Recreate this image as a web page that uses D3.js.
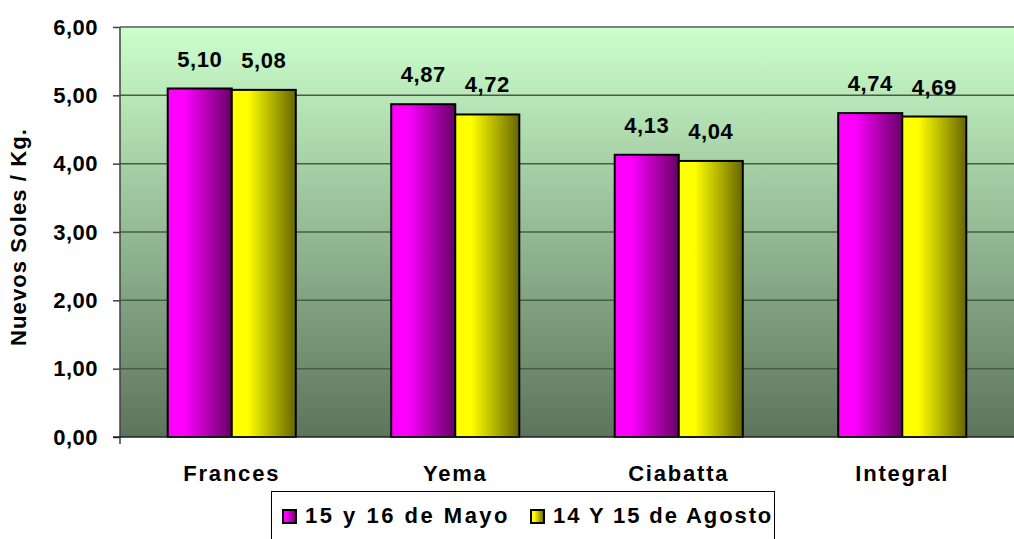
<!DOCTYPE html>
<html><head><meta charset="utf-8">
<script src="https://cdn.jsdelivr.net/npm/d3@7"></script>
<style>html,body{margin:0;padding:0;background:#fff;}svg{display:block;font-family:"Liberation Sans",Arial,sans-serif;}</style>
</head><body>
<svg id="c" width="1014" height="539"></svg>
<script>
const categories = ["Frances", "Yema", "Ciabatta", "Integral"];
const seriesNames = ["15 y 16 de Mayo", "14 Y 15 de Agosto"];
const mayo = [5.10, 4.87, 4.13, 4.74];
const agosto = [5.08, 4.72, 4.04, 4.69];
const yTicks = [0, 1, 2, 3, 4, 5, 6];
const yTitle = "Nuevos Soles / Kg.";

const svg = d3.select("#c");
const M = {l: 120, r: 1014, t: 27, b: 437};
const fmt = v => v.toFixed(2).replace(".", ",");

const defs = svg.append("defs");
const bg = defs.append("linearGradient").attr("id","bg").attr("x1",0).attr("y1",0).attr("x2",0).attr("y2",1);
bg.append("stop").attr("offset","0%").attr("stop-color","#ccffcc");
bg.append("stop").attr("offset","100%").attr("stop-color","#5c745c");
function barGrad(id, c1, c2){
  const g = defs.append("linearGradient").attr("id",id).attr("x1",0).attr("y1",0).attr("x2",1).attr("y2",0);
  g.append("stop").attr("offset","0%").attr("stop-color",c1);
  g.append("stop").attr("offset","25%").attr("stop-color",c1);
  g.append("stop").attr("offset","100%").attr("stop-color",c2);
}
barGrad("gm","#ff00ff","#660066");
barGrad("gy","#ffff00","#666600");
const fills = ["url(#gm)","url(#gy)"];

const x = d3.scaleBand().domain(categories).range([M.l, M.r]).paddingInner(0.427).paddingOuter(0.2135);
const xs = d3.scaleBand().domain([0,1]).range([0, x.bandwidth()]);
const y = d3.scaleLinear().domain([0, 6]).range([M.b, M.t]);

svg.append("rect").attr("x",M.l).attr("y",M.t).attr("width",M.r-M.l).attr("height",M.b-M.t).attr("fill","url(#bg)");

// gridlines
svg.append("g").selectAll("line").data(yTicks.slice(1)).join("line")
  .attr("x1",M.l).attr("x2",M.r).attr("y1",d=>y(d)).attr("y2",d=>y(d))
  .attr("stroke", d => d===6 ? "#808080" : "#4a5a4a").attr("stroke-width", d => d===6 ? 2 : 1.5);

// y axis
const ya = svg.append("g").attr("transform",`translate(${M.l},0)`)
  .call(d3.axisLeft(y).tickValues(yTicks).tickFormat(fmt).tickSize(7).tickPadding(15));
ya.select(".domain").attr("stroke","#404040").attr("stroke-width",1.5).attr("d",`M0,${M.t}V${M.b+7}`);
ya.selectAll(".tick line").attr("stroke","#404040").attr("stroke-width",1.5);
ya.selectAll("text").attr("font-size",22).attr("font-weight","bold").attr("fill","#000")
  .attr("font-family","Liberation Sans, Arial").attr("letter-spacing",0.5).attr("dy","0.33em");

// bars
const data = [];
categories.forEach((c,i)=>{ data.push({c, s:0, v:mayo[i]}); data.push({c, s:1, v:agosto[i]}); });
svg.append("g").selectAll("rect").data(data).join("rect")
  .attr("x", d => x(d.c) + xs(d.s)).attr("y", d => y(d.v))
  .attr("width", xs.bandwidth()).attr("height", d => y(0) - y(d.v))
  .attr("fill", d => fills[d.s]).attr("stroke","#000").attr("stroke-width",2);

// baseline
svg.append("line").attr("x1",M.l-7).attr("x2",M.r).attr("y1",y(0)).attr("y2",y(0)).attr("stroke","#202020").attr("stroke-width",1.5);

// value labels
svg.append("g").selectAll("text").data(data).join("text")
  .attr("x", d => x(d.c) + xs(d.s) + xs.bandwidth()/2).attr("y", d => y(d.v) - 22)
  .attr("text-anchor","middle").attr("font-size",22).attr("font-weight","bold").attr("letter-spacing",0.5).text(d => fmt(d.v));

// category labels
svg.append("g").selectAll("text").data(categories).join("text")
  .attr("x", d => x(d) + x.bandwidth()/2).attr("y", 481)
  .attr("text-anchor","middle").attr("font-size",22).attr("font-weight","bold").attr("letter-spacing",1.8).text(d=>d);

// y title
svg.append("text").attr("transform","translate(26,237) rotate(-90)").attr("text-anchor","middle")
  .attr("font-size",22).attr("font-weight","bold").attr("letter-spacing",1.1).text(yTitle);

// legend
const lg = svg.append("g");
lg.append("rect").attr("x",271.5).attr("y",491.5).attr("width",503).attr("height",60).attr("fill","#fff").attr("stroke","#000").attr("stroke-width",1);
const lx = [283, 531];
const ls = [2.5, 1.9];
seriesNames.forEach((n,i)=>{
  lg.append("rect").attr("x",lx[i]).attr("y",510).attr("width",13).attr("height",13).attr("fill",fills[i]).attr("stroke","#000").attr("stroke-width",2);
  lg.append("text").attr("x",lx[i]+22).attr("y",523).attr("font-size",22).attr("font-weight","bold").attr("letter-spacing",ls[i]).text(n);
});
</script>
</body></html>
